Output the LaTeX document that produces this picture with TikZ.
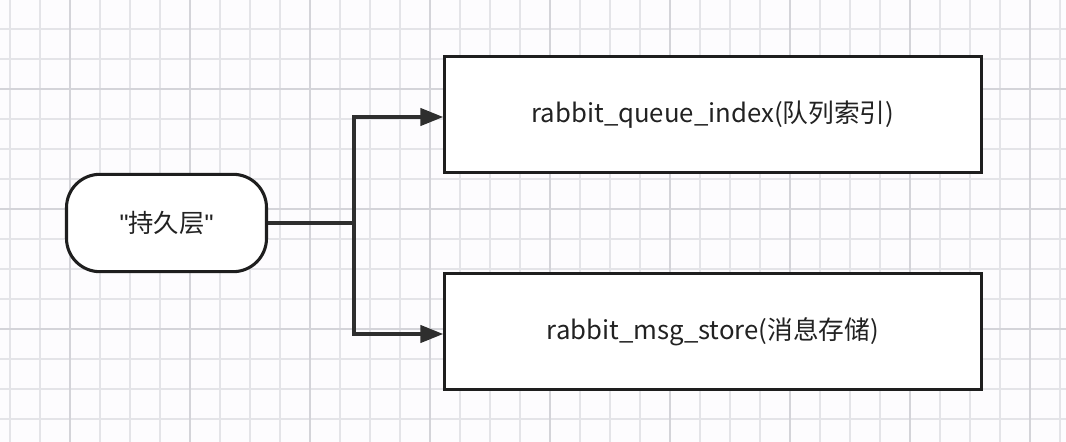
\documentclass[tikz,border=0pt]{standalone}
\usepackage{fontspec}
\setmainfont{Noto Sans CJK SC}
\newfontfamily\latq{Liberation Sans}
\usetikzlibrary{arrows.meta,calc}
\definecolor{bgc}{HTML}{FDFCFE}
\definecolor{gridl}{HTML}{E4E4E8}
\definecolor{gridd}{HTML}{D4D4D9}
\definecolor{ink}{HTML}{1E1E1E}
\definecolor{conn}{HTML}{2E2E2E}
\definecolor{txt}{HTML}{222222}
\tikzset{
  gridline/.style={draw=gridl,line width=0.9pt},
  gridbold/.style={draw=gridd,line width=0.9pt},
  pill/.style={draw=ink,fill=white,line width=2.3pt,rounded corners=25pt,
    minimum width=150pt,minimum height=73pt,text=txt,font=\fontsize{19}{23}\selectfont,inner sep=0pt},
  box/.style={draw=ink,fill=white,line width=2.3pt,minimum width=402.5pt,
    minimum height=87pt,text=txt,font=\fontsize{19.3}{23}\selectfont,inner sep=0pt},
  link/.style={draw=conn,line width=2.3pt},
  arr/.style={link,-{Triangle[length=17pt,width=13pt]}}
}
\begin{document}
\begin{tikzpicture}[x=0.75pt,y=-0.75pt]
\fill[bgc] (0,0) rectangle (1066,442);
\useasboundingbox (0,0) rectangle (1066,442);
\foreach \x in {10,40,...,1060} \draw[gridline] (\x,0) -- (\x,442);
\foreach \y in {29,59,...,440} \draw[gridline] (0,\y) -- (1066,\y);
\foreach \x in {70,190,...,1060} \draw[gridbold] (\x,0) -- (\x,442);
\foreach \y in {89,209,329} \draw[gridbold] (0,\y) -- (1066,\y);

\node[pill] (p) at (166.5,223) {{\latq"}持久层{\latq"}};
\node[box] (b1) at (713,114.5) {rabbit\_queue\_index(队列索引)};
\node[box] (b2) at (713,331.5) {rabbit\_msg\_store(消息存储)};

\coordinate (j) at (354,223);
\draw[link] (p.east) -- (j);
\draw[arr] (j) |- ($(b1.west)+(0,2.5)$);
\draw[arr] (j) |- ($(b2.west)+(0,2.5)$);
\end{tikzpicture}
\end{document}
